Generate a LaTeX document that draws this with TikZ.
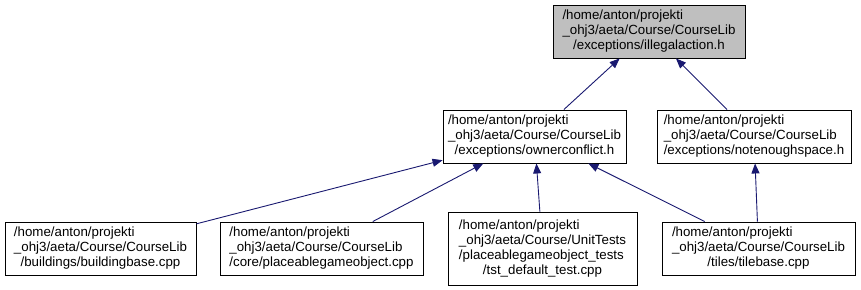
\documentclass[tikz,border=0pt]{standalone}
\usepackage{fontspec}
\setmainfont{Liberation Sans}
\usetikzlibrary{arrows.meta}

\definecolor{edgeblue}{HTML}{191970}
\definecolor{hdrgray}{HTML}{BFBFBF}

\newcommand{\inclabel}[2]{%
  \begin{tabular}{@{}l@{}}#1\\\multicolumn{1}{@{}c@{}}{#2}\end{tabular}}

\begin{document}
\begin{tikzpicture}[
  x=1pt,
  y=-1pt,
  font=\fontsize{13.3}{15}\selectfont,
  file/.style={draw=black,line width=.9pt,fill=white,inner sep=0pt,
    minimum height=53pt},
  tallfile/.style={file,minimum height=73pt},
  incl/.style={draw=edgeblue,line width=.9pt,
    -{Triangle[length=10pt,width=8pt]}}
]
\useasboundingbox (0,0) rectangle (861,289);

\node[file,fill=hdrgray,minimum width=192pt] (illegal) at (649,31.5)
  {\inclabel{/home/anton/projekti\\\_ohj3/aeta/Course/CourseLib}
   {/exceptions/illegalaction.h}};

\node[file,minimum width=183pt] (owner) at (534.5,136.5)
  {\inclabel{/home/anton/projekti\\\_ohj3/aeta/Course/CourseLib}
   {/exceptions/ownerconflict.h}};
\node[file,minimum width=194pt] (noroom) at (754,136.5)
  {\inclabel{/home/anton/projekti\\\_ohj3/aeta/Course/CourseLib}
   {/exceptions/notenoughspace.h}};

\node[file,minimum width=191pt] (building) at (100.5,248.5)
  {\inclabel{/home/anton/projekti\\\_ohj3/aeta/Course/CourseLib}
   {/buildings/buildingbase.cpp}};
\node[file,minimum width=203pt] (placeable) at (321.5,248.5)
  {\inclabel{/home/anton/projekti\\\_ohj3/aeta/Course/CourseLib}
   {/core/placeablegameobject.cpp}};
\node[tallfile,minimum width=189pt] (tsttest) at (542.5,248.5)
  {\inclabel{/home/anton/projekti\\\_ohj3/aeta/Course/UnitTests\\
   /placeablegameobject\_tests}{/tst\_default\_test.cpp}};
\node[file,minimum width=193pt] (tiles) at (758.5,248.5)
  {\inclabel{/home/anton/projekti\\\_ohj3/aeta/Course/CourseLib}
   {/tiles/tilebase.cpp}};

\draw[incl] (owner) -- (illegal);
\draw[incl] (noroom) -- (illegal);
\draw[incl] (building) -- (owner);
\draw[incl] (placeable) -- (owner);
\draw[incl] (tsttest) -- (owner);
\draw[incl] (tiles) -- (owner);
\draw[incl] (tiles) -- (noroom);
\end{tikzpicture}
\end{document}
